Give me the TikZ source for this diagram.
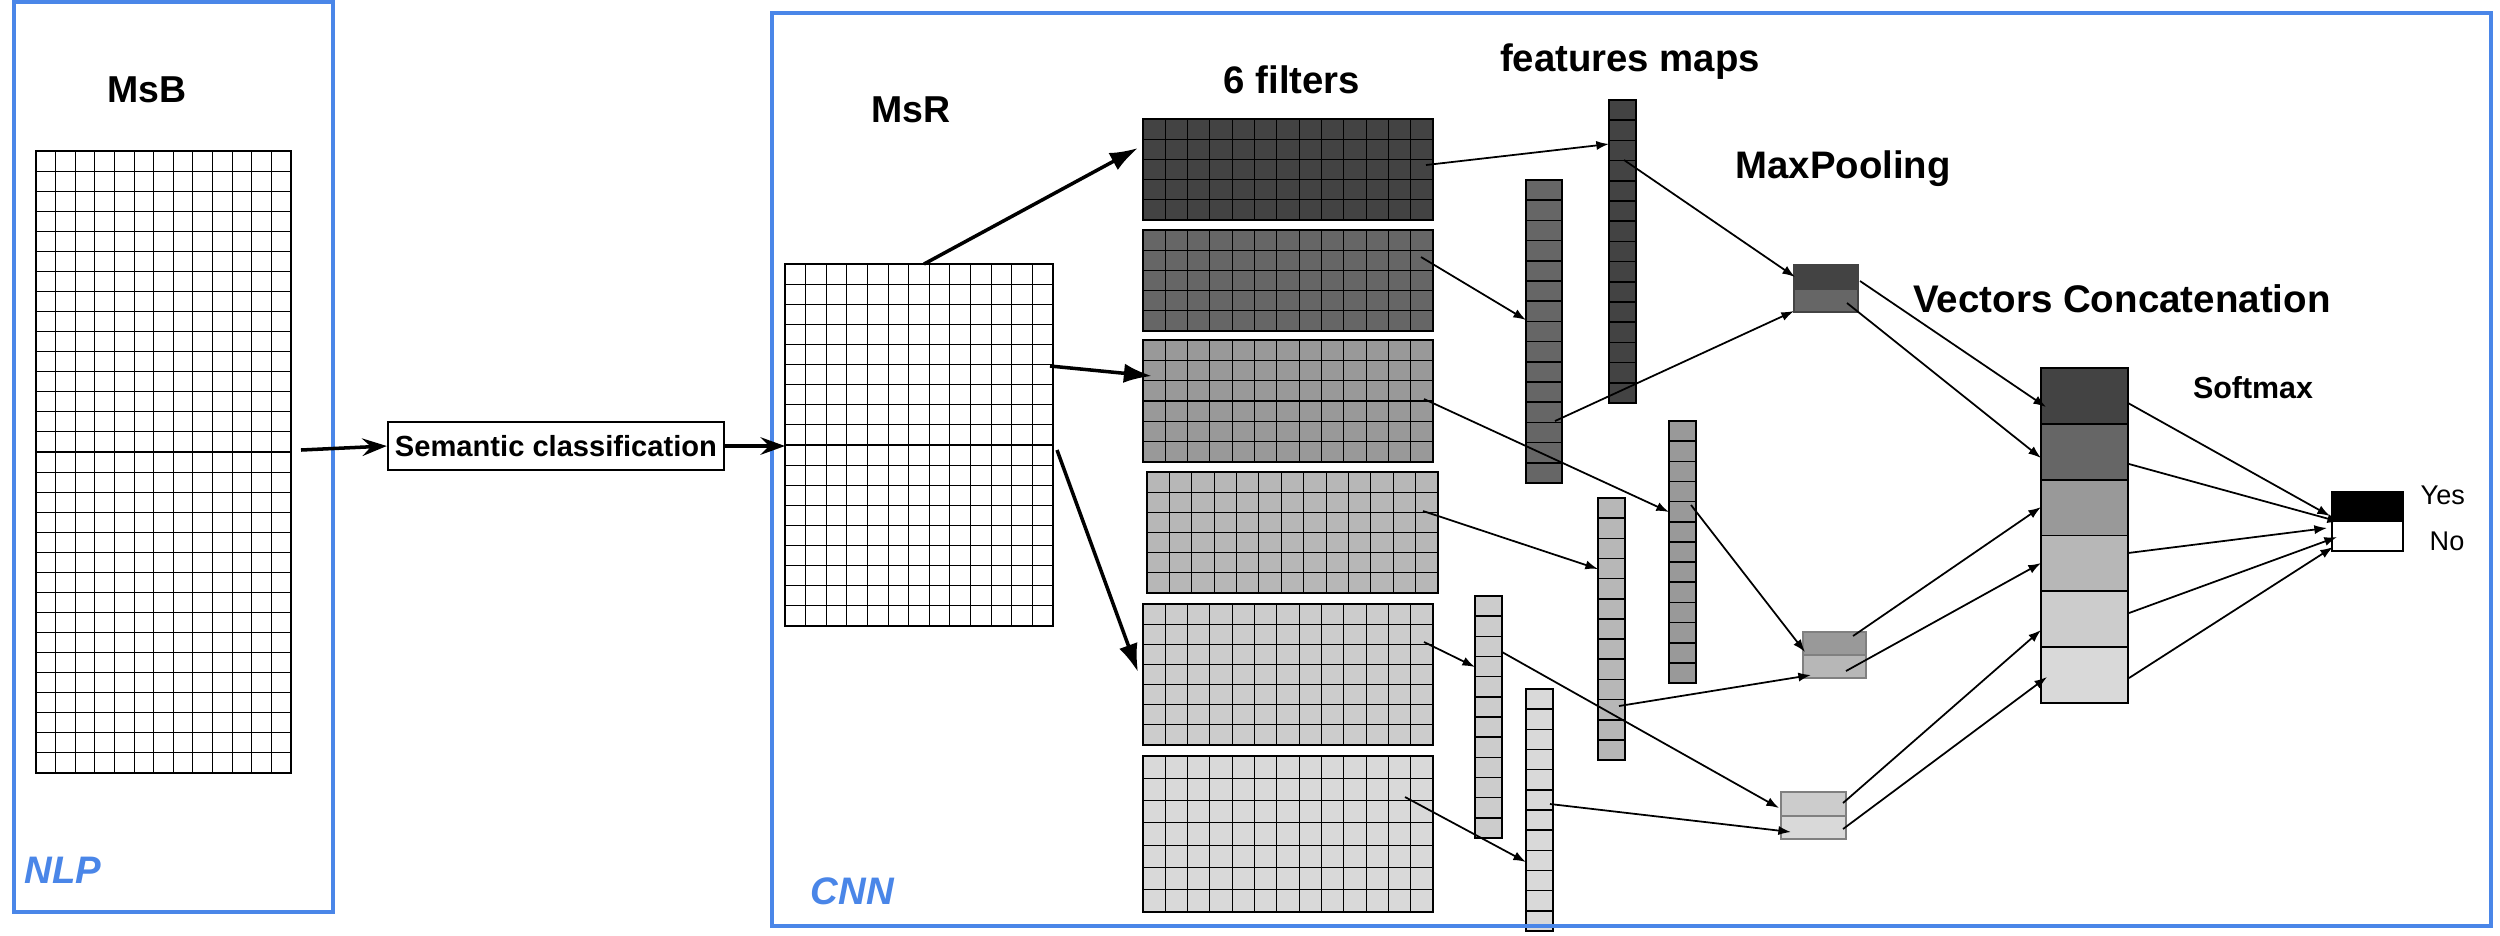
\documentclass[tikz,border=0pt]{standalone}
\usepackage{fontspec}
\setmainfont{Liberation Sans}
\usetikzlibrary{arrows.meta,fit}
\definecolor{gblue}{HTML}{4A86E8}
\definecolor{gA}{HTML}{434343}
\definecolor{gB}{HTML}{666666}
\definecolor{gC}{HTML}{999999}
\definecolor{gD}{HTML}{B7B7B7}
\definecolor{gE}{HTML}{CCCCCC}
\definecolor{gF}{HTML}{D9D9D9}
\newcommand{\myfs}[1]{\fontsize{#1}{#1}\selectfont}
% name, x0, y0, x1, y1, ncols, nrows, fill
\newcommand{\cells}[8]{%
  \node[cellbox, fill=#8, fit={(#2,#3)(#4,#5)}] (#1) {};
  \foreach \i in {0,...,#6}{\draw[gridline] ({#2+(#4-#2)/#6*\i},#3) -- ({#2+(#4-#2)/#6*\i},#5);}
  \foreach \j in {0,...,#7}{\draw[gridline] (#2,{#3+(#5-#3)/#7*\j}) -- (#4,{#3+(#5-#3)/#7*\j});}
}
% name, x0, y0, x1, ymid, y1, top colour, bottom colour, border colour
\newcommand{\pool}[9]{%
  \fill[#7] (#2,#3) rectangle (#4,#5);
  \fill[#8] (#2,#5) rectangle (#4,#6);
  \draw[#9, line width=0.35pt] (#2,#5) -- (#4,#5);
  \node[draw=#9, line width=0.35pt, inner sep=0pt, fit={(#2,#3)(#4,#6)}] (#1) {};
}
\tikzset{
  cellbox/.style={draw=black, line width=0.4pt, inner sep=0pt, outer sep=0pt},
  gridline/.style={line width=0.3pt, draw=black},
  panel/.style={draw=gblue, line width=0.9pt, inner sep=0pt},
  bigarrow/.style={-{Latex[length=8pt,width=5.5pt]}, line width=1pt},
  openarrow/.style={-{Stealth[length=7pt,width=5pt,inset=2.5pt]}, line width=1pt},
  smallarrow/.style={-{Latex[length=3.6pt,width=2.6pt]}, line width=0.5pt},
  lbl/.style={anchor=base, inner sep=0pt},
}
\begin{document}
\begin{tikzpicture}[x=0.01cm,y=-0.01cm]
\useasboundingbox (0,0) rectangle (2500,935);
\fill[white] (0,0) rectangle (2500,935);
% NLP panel
\node[panel, fit={(14,2)(333,912)}] (nlp) {};
% matrices
\cells{msb}{36}{151}{291}{773}{13}{31}{white}
\cells{msr}{785}{264}{1053}{626}{13}{18}{white}
% filters
\cells{f1}{1143}{119}{1433}{220}{13}{5}{gA}
\cells{f2}{1143}{230}{1433}{331}{13}{5}{gB}
\cells{f3}{1143}{340}{1433}{462}{13}{6}{gC}
\cells{f4}{1147}{472}{1438}{593}{13}{6}{gD}
\cells{f5}{1143}{604}{1433}{745}{13}{7}{gE}
\cells{f6}{1143}{756}{1433}{912}{13}{7}{gF}
% feature maps
\begin{scope}[gridline/.style={line width=0.45pt, draw=black}, cellbox/.style={draw=black, line width=0.5pt, inner sep=0pt, outer sep=0pt}]
\cells{fm1}{1609}{100}{1636}{403}{1}{15}{gA}
\cells{fm2}{1526}{180}{1562}{483}{1}{15}{gB}
\cells{fm3}{1669}{421}{1696}{683}{1}{13}{gC}
\cells{fm4}{1598}{498}{1625}{760}{1}{13}{gD}
\cells{fm5}{1475}{596}{1502}{838}{1}{12}{gE}
\cells{fm6}{1526}{689}{1553}{931}{1}{12}{gF}
\end{scope}
% max pooling
\pool{mp1}{1794}{265}{1858}{289}{312}{gA}{gB}{gA}
\pool{mp2}{1803}{632}{1866}{655}{678}{gC}{gD}{black!50}
\pool{mp3}{1781}{792}{1846}{816}{839}{gE}{gF}{black!50}
% concatenation
\foreach \k/\c in {0/gA,1/gB,2/gC,3/gD,4/gE,5/gF}{
  \filldraw[fill=\c, draw=black, line width=0.55pt] (2041,{368+55.833*\k}) rectangle (2128,{368+55.833*(\k+1)});
}
\node[draw=black, line width=0.55pt, inner sep=0pt, fit={(2041,368)(2128,703)}] (cat) {};
% softmax output
\fill[black] (2332,492) rectangle (2403,522);
\node[draw=black, line width=0.5pt, inner sep=0pt, fit={(2332,492)(2403,551)}] (out) {};
% CNN panel
\node[panel, fit={(772,13)(2491,926)}] (cnn) {};
% semantic classification
\node[draw=black, line width=0.6pt, inner sep=0pt, minimum width=3.36cm, minimum height=0.48cm,
      font={\bfseries\myfs{8.28pt}}, fill=white] (sem) at (556,446) {Semantic classification};

% ---- connector end points
\coordinate (a0s) at (301,450);
\coordinate (a2e) at (1138,148);
\coordinate (a3s) at (1050,366);
\coordinate (a3e) at (1152,376);
\coordinate (a4s) at (1057,450);
\coordinate (a4e) at (1138,672);
\coordinate (f1o) at (1426,165);  \coordinate (fm1i) at (1609,144);
\coordinate (f2o) at (1421,257);  \coordinate (fm2i) at (1526,320);
\coordinate (f3o) at (1424,399);  \coordinate (fm3i) at (1669,512);
\coordinate (f4o) at (1423,511);  \coordinate (fm4i) at (1598,569);
\coordinate (f5o) at (1424,642);  \coordinate (fm5i) at (1475,667);
\coordinate (f6o) at (1405,797);  \coordinate (fm6i) at (1526,862);
\coordinate (fm1o) at (1624,160); \coordinate (mp1a) at (1795,277);
\coordinate (fm2o) at (1555,421); \coordinate (mp1b) at (1794,311);
\coordinate (fm3o) at (1691,505); \coordinate (mp2a) at (1805,652);
\coordinate (fm4o) at (1619,706); \coordinate (mp2b) at (1811,675);
\coordinate (fm5o) at (1502,652); \coordinate (mp3a) at (1779,808);
\coordinate (fm6o) at (1550,804); \coordinate (mp3b) at (1791,832);
\coordinate (mp1c) at (1860,281); \coordinate (c1i) at (2046,407);
\coordinate (mp1d) at (1847,303); \coordinate (c2i) at (2041,458);
\coordinate (mp2c) at (1853,636); \coordinate (c3i) at (2041,507);
\coordinate (mp2d) at (1846,671); \coordinate (c4i) at (2041,563);
\coordinate (mp3c) at (1843,803); \coordinate (c5i) at (2041,630);
\coordinate (mp3d) at (1843,829); \coordinate (c6i) at (2047,677);
\coordinate (c1o) at (2128,403); \coordinate (o1) at (2330,516);
\coordinate (c2o) at (2129,464); \coordinate (o2) at (2340,522);
\coordinate (c4o) at (2128,553); \coordinate (o4) at (2327,528);
\coordinate (c5o) at (2129,613); \coordinate (o5) at (2337,537);
\coordinate (c6o) at (2129,678); \coordinate (o6) at (2333,547);

% thick arrows
\draw[openarrow] (a0s) -- (sem.west);
\draw[openarrow] (sem.east) -- (msr.west |- sem.east);
\draw[bigarrow] ([xshift=0.05cm]msr.north) -- (a2e);
\draw[bigarrow] (a3s) -- (a3e);
\draw[bigarrow] (a4s) -- (a4e);
% thin arrows
\foreach \s/\e in {f1o/fm1i,f2o/fm2i,f3o/fm3i,f4o/fm4i,f5o/fm5i,f6o/fm6i,
                   fm1o/mp1a,fm2o/mp1b,fm3o/mp2a,fm4o/mp2b,fm5o/mp3a,fm6o/mp3b,
                   mp1c/c1i,mp1d/c2i,mp2c/c3i,mp2d/c4i,mp3c/c5i,mp3d/c6i,
                   c1o/o1,c2o/o2,c4o/o4,c5o/o5,c6o/o6}{
  \draw[smallarrow] (\s) -- (\e);
}

% labels
\node[lbl, font={\bfseries\myfs{10.65pt}}] (tmsb) at (147,102) {MsB};
\node[lbl, font={\bfseries\myfs{10.65pt}}] (tmsr) at (911,122) {MsR};
\node[lbl, font={\bfseries\myfs{10.9pt}}] (tfil) at (1292,93) {6 filters};
\node[lbl, font={\bfseries\myfs{10.9pt}}] (tfm) at (1630,71) {features maps};
\node[lbl, font={\bfseries\myfs{10.9pt}}] (tmp) at (1843,178) {MaxPooling};
\node[lbl, font={\bfseries\myfs{10.95pt}}] (tvc) at (2122,312) {Vectors Concatenation};
\node[lbl, font={\bfseries\myfs{8.65pt}}] (tsm) at (2253,398) {Softmax};
\node[lbl, anchor=base west, font={\myfs{7.7pt}}] (tyes) at (2420,504) {Yes};
\node[lbl, anchor=base west, font={\myfs{7.7pt}}] (tno) at (2429,550) {No};
\node[lbl, anchor=base west, text=gblue, font={\bfseries\itshape\myfs{10.9pt}}] (tnlp) at (24,883) {NLP};
\node[lbl, anchor=base west, text=gblue, font={\bfseries\itshape\myfs{10.9pt}}] (tcnn) at (810,904) {CNN};
\end{tikzpicture}
\end{document}
